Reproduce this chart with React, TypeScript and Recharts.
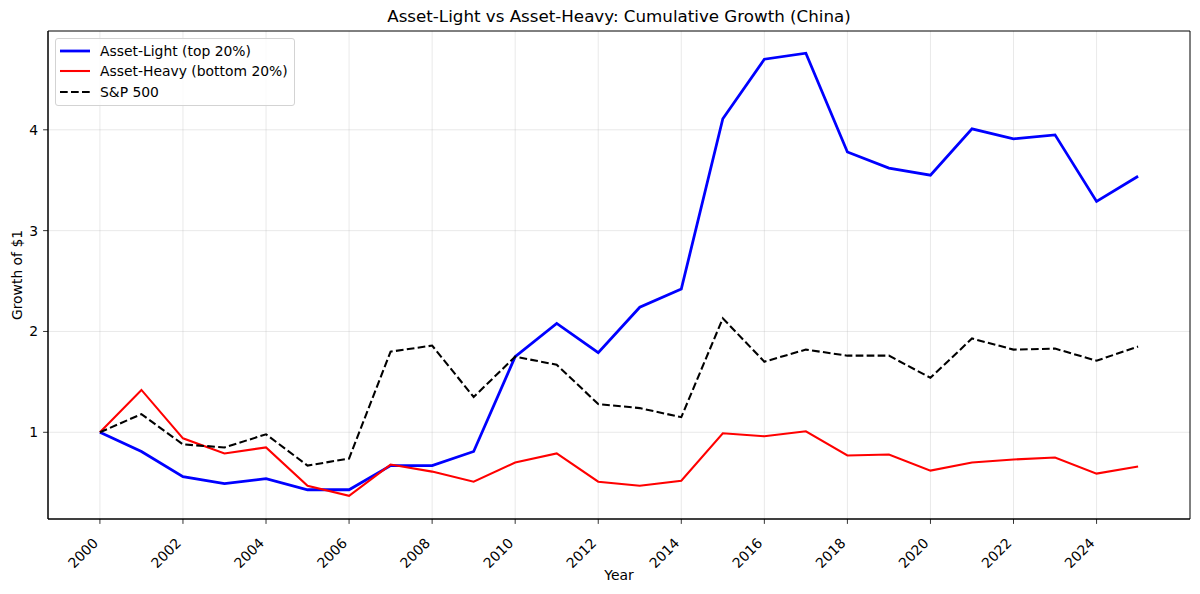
import React from 'react';
import { LineChart, Line, XAxis, YAxis, CartesianGrid, Legend, ReferenceArea } from 'recharts';

const years = [
  2000, 2001, 2002, 2003, 2004, 2005, 2006, 2007, 2008, 2009, 2010, 2011, 2012,
  2013, 2014, 2015, 2016, 2017, 2018, 2019, 2020, 2021, 2022, 2023, 2024, 2025
];

const assetLight = [
  1.0, 0.81, 0.56, 0.49, 0.54, 0.43, 0.43, 0.67, 0.67, 0.81, 1.75, 2.08, 1.79,
  2.24, 2.42, 4.11, 4.7, 4.76, 3.78, 3.62, 3.55, 4.01, 3.91, 3.95, 3.29, 3.54
];

const assetHeavy = [
  1.0, 1.42, 0.94, 0.79, 0.85, 0.47, 0.37, 0.68, 0.61, 0.51, 0.7, 0.79, 0.51,
  0.47, 0.52, 0.99, 0.96, 1.01, 0.77, 0.78, 0.62, 0.7, 0.73, 0.75, 0.59, 0.66
];

const sp500 = [
  1.0, 1.18, 0.88, 0.85, 0.98, 0.67, 0.74, 1.8, 1.86, 1.35, 1.75, 1.67, 1.28,
  1.24, 1.15, 2.13, 1.7, 1.82, 1.76, 1.76, 1.54, 1.93, 1.82, 1.83, 1.71, 1.85
];

const xTicks = [2000, 2002, 2004, 2006, 2008, 2010, 2012, 2014, 2016, 2018, 2020, 2022, 2024];
const yTicks = [1, 2, 3, 4];

const X_DOMAIN: [number, number] = [1998.75, 2026.25];
const Y_DOMAIN: [number, number] = [0.14, 4.98];

const FONT = '"DejaVu Sans", sans-serif';

const series = [
  { key: 'light', name: 'Asset-Light (top 20%)', color: '#0000ff', width: 2.78, dash: undefined },
  { key: 'heavy', name: 'Asset-Heavy (bottom 20%)', color: '#ff0000', width: 2.08, dash: undefined },
  { key: 'sp', name: 'S&P 500', color: '#000000', width: 2.08, dash: '7.7 3.3' }
];

const data = years.map((year, i) => ({
  year,
  light: assetLight[i],
  heavy: assetHeavy[i],
  sp: sp500[i]
}));

const YearTick = (props: any) => {
  const { x, y, payload } = props;
  const ax = x - 1;
  const ay = y + 20;
  return (
    <text
      x={ax}
      y={ay}
      textAnchor="end"
      fontSize={13.9}
      fontFamily={FONT}
      fill="#000"
      transform={`rotate(-45, ${ax}, ${ay})`}
    >
      {payload.value}
    </text>
  );
};

const LegendBox = () => (
  <div
    style={{
      width: 240,
      height: 68,
      boxSizing: 'border-box',
      border: '1px solid #d3d3d3',
      borderRadius: 3,
      background: 'rgba(255,255,255,0.8)',
      paddingTop: 1.5,
      fontFamily: FONT,
      fontSize: 13.9,
      color: '#000'
    }}
  >
    {series.map((s) => (
      <div key={s.key} style={{ height: 20.5, display: 'flex', alignItems: 'center' }}>
        <svg width={44} height={10} style={{ flex: 'none' }}>
          <line
            x1={4}
            x2={34}
            y1={5}
            y2={5}
            stroke={s.color}
            strokeWidth={s.width}
            strokeDasharray={s.dash}
          />
        </svg>
        <span style={{ whiteSpace: 'nowrap' }}>{s.name}</span>
      </div>
    ))}
  </div>
);

const App = () => {
  return (
    <div style={{ position: 'fixed', left: 0, top: 0, width: 1200, height: 594, background: '#fff' }}>
      <div
        style={{
          position: 'absolute',
          left: 48,
          width: 1142,
          top: 5,
          textAlign: 'center',
          fontFamily: FONT,
          fontSize: 16.7,
          lineHeight: '22px',
          color: '#000'
        }}
      >
        Asset-Light vs Asset-Heavy: Cumulative Growth (China)
      </div>
      <LineChart
        width={1200}
        height={594}
        data={data}
        margin={{ top: 31, right: 10, bottom: 15, left: 8 }}
      >
        <CartesianGrid stroke="#b0b0b0" strokeOpacity={0.35} strokeWidth={0.8} verticalValues={xTicks} horizontalValues={yTicks} />
        <XAxis
          dataKey="year"
          type="number"
          domain={X_DOMAIN}
          ticks={xTicks}
          allowDataOverflow
          height={60}
          tickSize={4.9}
          tickMargin={0}
          tick={<YearTick />}
          stroke="#000"
          axisLine={{ stroke: '#000', strokeWidth: 1 }}
          tickLine={{ stroke: '#000', strokeWidth: 0.8 }}
          label={{
            value: 'Year',
            position: 'insideBottom',
            offset: -1,
            fontSize: 13.9,
            fontFamily: FONT,
            fill: '#000'
          }}
        />
        <YAxis
          type="number"
          domain={Y_DOMAIN}
          ticks={yTicks}
          allowDataOverflow
          width={40}
          tickSize={4.9}
          tickMargin={4.9}
          tick={{ fontSize: 13.9, fontFamily: FONT, fill: '#000' }}
          axisLine={{ stroke: '#000', strokeWidth: 1 }}
          tickLine={{ stroke: '#000', strokeWidth: 0.8 }}
          label={{
            value: 'Growth of $1',
            angle: -90,
            position: 'insideLeft',
            offset: 9,
            fontSize: 13.9,
            fontFamily: FONT,
            fill: '#000',
            style: { textAnchor: 'middle' }
          }}
        />
        <ReferenceArea
          x1={X_DOMAIN[0]}
          x2={X_DOMAIN[1]}
          y1={Y_DOMAIN[0]}
          y2={Y_DOMAIN[1]}
          fill="none"
          stroke="#000"
          strokeWidth={1}
        />
        {series.map((s) => (
          <Line
            key={s.key}
            type="linear"
            dataKey={s.key}
            name={s.name}
            stroke={s.color}
            strokeWidth={s.width}
            strokeDasharray={s.dash}
            dot={false}
            activeDot={false}
            isAnimationActive={false}
          />
        ))}
        <Legend
          layout="vertical"
          align="center"
          verticalAlign="middle"
          content={<LegendBox />}
          wrapperStyle={{ left: 55, top: 38, width: 240, height: 68, right: 'auto', bottom: 'auto' }}
        />
      </LineChart>
    </div>
  );
};

export default App;
